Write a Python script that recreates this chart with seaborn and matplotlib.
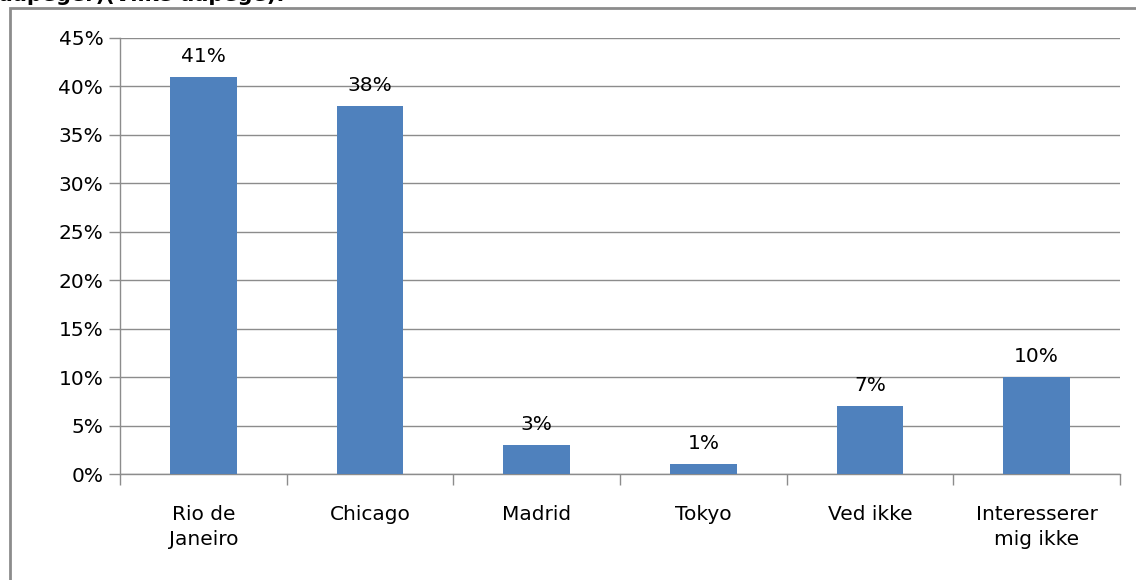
import matplotlib
matplotlib.use("Agg")
import matplotlib.pyplot as plt
import seaborn as sns
import pandas as pd
from matplotlib.patches import Rectangle
from matplotlib.ticker import PercentFormatter

categories = ["Rio de\nJaneiro", "Chicago", "Madrid", "Tokyo", "Ved ikke", "Interesserer\nmig ikke"]
values = [41, 38, 3, 1, 7, 10]
yticks = [0, 5, 10, 15, 20, 25, 30, 35, 40, 45]

sns.set_style("white")
plt.rcParams["font.family"] = ["DejaVu Sans"]
plt.rcParams["text.color"] = "black"
plt.rcParams["xtick.color"] = "black"
plt.rcParams["ytick.color"] = "black"

df = pd.DataFrame({"cat": categories, "val": values})

fig = plt.figure(figsize=(11.36, 5.8), dpi=100)
ax = fig.add_axes([120 / 1136, 1 - 474 / 580, 1000 / 1136, 436 / 580])

sns.barplot(data=df, x="cat", y="val", color="#4F81BD", width=0.4, saturation=1,
            edgecolor="none", linewidth=0, ax=ax, zorder=3)

ax.set_ylim(0, 45)
ax.set_xlim(-0.5, len(categories) - 0.5)
ax.set_yticks(yticks)
ax.yaxis.set_major_formatter(PercentFormatter(decimals=0))
ax.set_xlabel("")
ax.set_ylabel("")
ax.grid(axis="y", color="#8c8c8c", lw=1, zorder=0)
ax.set_axisbelow(True)

for s in ["top", "right"]:
    ax.spines[s].set_visible(False)
for s in ["left", "bottom"]:
    ax.spines[s].set_color("#8c8c8c")
    ax.spines[s].set_linewidth(1)

# category boundary ticks on x axis
ax.set_xticks([i for i in range(len(categories))])
ax.set_xticklabels(categories, linespacing=1.45)
ax.set_xticks([i - 0.5 for i in range(len(categories) + 1)], minor=True)
ax.tick_params(axis="x", which="major", length=0, pad=22, labelsize=14.5, labelcolor="black")
ax.tick_params(axis="x", which="minor", length=8, color="#8c8c8c", width=1, direction="out", bottom=True)
ax.tick_params(axis="y", length=8, color="#8c8c8c", width=1, direction="out", left=True,
               labelsize=14.5, labelcolor="black", pad=4)

for i, v in enumerate(values):
    ax.annotate(f"{v}%", (i, v), xytext=(0, 8), textcoords="offset points",
                ha="center", va="bottom", fontsize=14.5, color="black")

# outer chart frame
fig.patches.append(Rectangle((10 / 1136, -0.1), 1.2, 1 - 8 / 580 + 0.1,
                             transform=fig.transFigure, fill=False,
                             edgecolor="#8c8c8c", lw=2, zorder=0))

# clipped title line from the original page
fig.text(-0.002, 1 - 1 / 580, "dapeger)(Vilke dapege):", fontsize=15,
         fontweight="bold", ha="left", va="baseline", color="black")

fig.savefig("out.png", dpi=100)
